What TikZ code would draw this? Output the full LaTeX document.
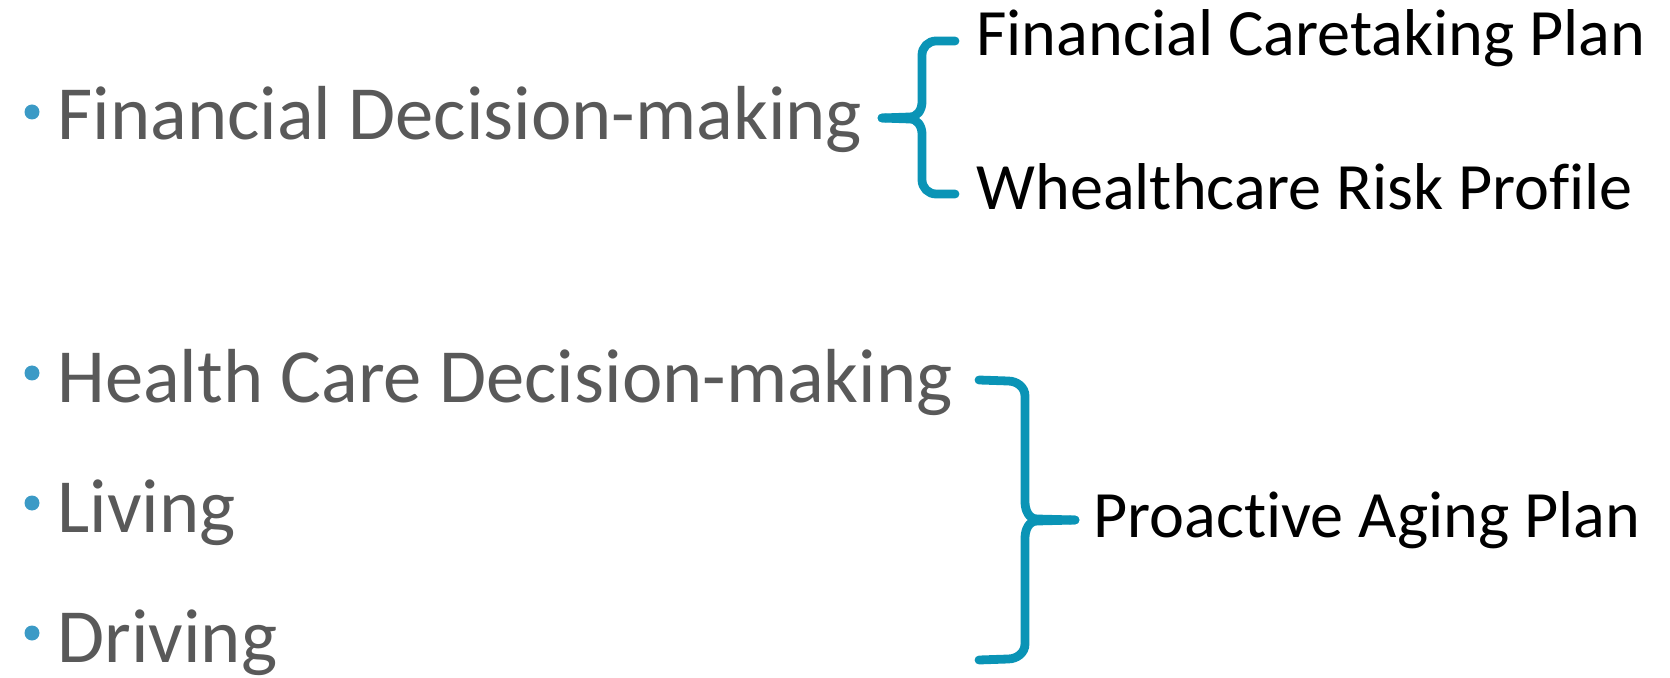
\documentclass[tikz,border=0pt]{standalone}
\usepackage{fontspec}
\setmainfont{Carlito}[Ligatures=NoCommon]
\usetikzlibrary{positioning}
\definecolor{itemgray}{HTML}{595959}
\definecolor{dotblue}{HTML}{3B9AC6}
\definecolor{bracecol}{HTML}{0A94B6}

\begin{document}
\begin{tikzpicture}[x=0.5pt,y=-0.5pt,
  item/.style={anchor=base west,inner sep=0pt,text=itemgray,font=\fontsize{38.3}{46}\selectfont},
  plan/.style={anchor=base west,inner sep=0pt,text=black,font=\fontsize{33.1}{40}\selectfont},
  dot/.style={circle,fill=dotblue,inner sep=0pt,minimum size=7.5pt},
  brace/.style={draw=bracecol,line width=4.4pt,line cap=round,line join=round}]
  \path[use as bounding box] (0,0) rectangle (1670,678);
  % bullet list
  \node[dot] (d1) at (32,112) {};
  \node[item] (fin) at (57,140) {Financial Decision-making};
  \node[dot] (d2) at (32,373) {};
  \node[item] (hc) at (57,402) {Health Care Decision-making};
  \node[dot] (d3) at (32,503) {};
  \node[item] (liv) at (57,532) {Living};
  \node[dot] (d4) at (32,633) {};
  \node[item] (drv) at (57,662) {Driving};
  % plans on the right
  \node[plan] (fcp) at (976,56) {Financial Caretaking Plan};
  \node[plan] (wrp) at (976,210) {Whealthcare Risk Profile};
  \node[plan] (pap) at (1093,537) {Proactive Aging Plan};
  % brace from the financial item
  \coordinate (tip1) at (882,118);
  \coordinate (top1) at (955,41);
  \coordinate (bot1) at (955,194);
  \draw[brace] (top1) -- (936,41) to[out=180,in=90] (922,55) -- (922,102)
    to[out=-90,in=0] (910,117) -- (tip1);
  \draw[brace] (bot1) -- (936,194) to[out=180,in=-90] (922,180) -- (922,134)
    to[out=90,in=0] (910,119) -- (tip1);
  % brace to the aging plan
  \coordinate (tip2) at (1075,520);
  \coordinate (top2) at (979,380);
  \coordinate (bot2) at (979,660);
  \draw[brace] (top2) -- (1008,381) to[out=0,in=90] (1025,396) -- (1025,502)
    to[out=-90,in=180] (1037,519) -- (tip2);
  \draw[brace] (bot2) -- (1008,659) to[out=0,in=-90] (1025,644) -- (1025,538)
    to[out=90,in=180] (1037,521) -- (tip2);
\end{tikzpicture}
\end{document}
